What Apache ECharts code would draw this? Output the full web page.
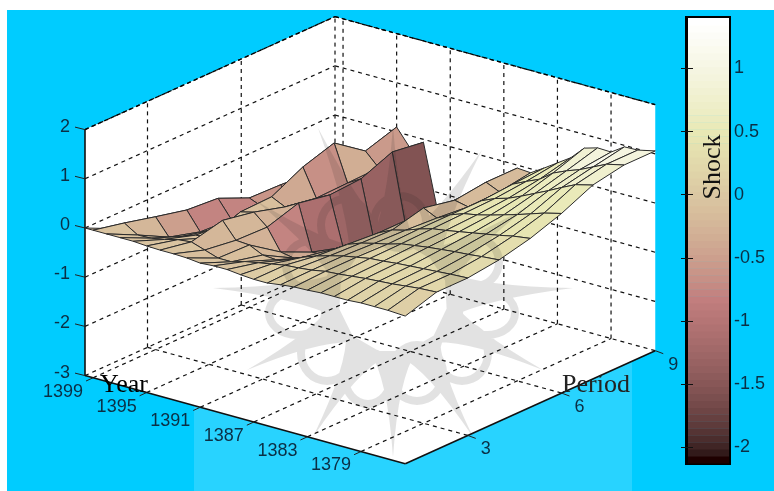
<!DOCTYPE html>
<html><head><meta charset="utf-8">
<style>html,body{margin:0;padding:0;background:#fff}#c{width:774px;height:491px}</style>
<script src="https://cdn.jsdelivr.net/npm/echarts@6/dist/echarts.min.js"></script>
</head><body><div id="c"></div>
<script>
// ---- data ----
const yearTicks = [1399,1395,1391,1387,1383,1379];
const periodTicks = [3,6,9];
const shockTicks = [-3,-2,-1,0,1,2];
const barTicks = [-2,-1.5,-1,-0.5,0,0.5,1];
const years = [1399.6,1399,1398,1397,1396,1395,1394,1393,1392,1391,1390,1389,1388,1387,1386,1385,1384,1383,1382,1381,1380,1379,1378,1377,1375.7];
const periods = [1,2,3,4,5,6,7,8,9];
const shock = [
 [0,-.3,-.5,-.65,-.75,-.95,-1,-1,-.8],
 [0,-.14,-.3,-.45,-.5,-.78,-.8,-.85,-.75],
 [0,-.31,-.64,-.82,-.86,-.89,-1.1,-1.1,-1],
 [0,-.3,-.55,-.7,-.75,-.8,-.9,-.9,-.8],
 [0,-.25,-.45,-.5,-.5,-.55,-.6,-.7,-.6],
 [-.02,-.18,-.43,-.19,-.17,.15,.35,-.1,.1],
 [-.03,-.15,0,-.12,-.3,-.41,-.39,-.37,-.25],
 [-.03,-.24,-.33,-.35,-.15,-.27,-.23,.03,-.06],
 [-.04,-.33,-.35,-.78,-1.07,-1.26,-1.44,-1.39,-1.3],
 [-.07,-.33,-.48,-.83,-1.06,-1.24,-1.29,-1.25,-1.19],
 [-.05,-.25,-.5,-.75,-.95,-1.05,-1.05,-1.1,-1.1],
 [-.05,-.2,-.42,-.6,-.75,-.85,-.85,-.9,-.85],
 [-.08,-.15,-.3,-.42,-.5,-.55,-.55,-.6,-.55],
 [-.1,-.1,-.2,-.25,-.3,-.3,-.32,-.35,-.3],
 [-.1,-.08,-.12,-.15,-.17,-.01,-.14,-.06,-.06],
 [-.06,-.05,-.05,-.08,-.1,-.14,-.2,-.18,-.08],
 [-.03,0,0,-.02,0,0,0,.05,.09],
 [-.02,.02,.05,.06,.08,.1,.12,.18,.27],
 [0,.05,.07,.1,.12,.15,.2,.3,.45],
 [0,.08,.1,.14,.17,.22,.32,.5,.72],
 [0,.1,.12,.17,.22,.3,.45,.62,.8],
 [.02,.12,.14,.2,.27,.38,.58,.72,.79],
 [.02,.15,.16,.22,.32,.47,.72,.85,.97],
 [.02,.18,.18,.25,.38,.56,.85,.98,.98],
 [0,.2,.2,.28,.43,.65,.94,1.06,1.06]
];
// colour of each mesh cell (flat shaded, as the picture shows it)
const cellShock = [
 [-.05,-.25,-.5,-.75,-.8,-.6,-.6,-.6],
 [-.05,-.25,-.5,-.75,-.8,-.6,-.6,-.6],
 [-.05,-.1,-.2,-.3,-.3,-.3,-.3,-.3],
 [-.05,-.1,-.2,-.3,-.3,-.3,-.3,-.3],
 [-.05,-.08,-.1,-.2,-.3,-.6,-.6,-.6],
 [-.05,0,-.05,-.1,-.4,-.65,-.35,-.55],
 [-.05,-.2,-.2,-.3,-.45,-.7,-.6,-.6],
 [-.1,-.2,-.3,-.75,-1.1,-1.25,-1.3,-1.55],
 [-.05,-.1,-.25,-.4,-.55,-.5,-.5,-.5],
 [-.05,-.1,-.2,-.35,-.45,-.45,-.45,-.45],
 [-.05,-.1,-.15,-.2,-.25,-.25,-.25,-.25],
 [0,-.05,-.1,-.15,-.15,-.15,-.15,-.15],
 [.05,0,-.05,-.05,-.05,-.1,-.1,-.1],
 [.1,.05,0,0,-.05,-.15,-.15,-.15],
 [.1,.05,.05,.05,-.1,-.15,-.15,-.15],
 [.1,.1,.12,.15,.2,.3,.35,.4],
 [.12,.15,.15,.2,.3,.4,.45,.5],
 [.15,.18,.2,.25,.35,.45,.5,.55],
 [.15,.2,.22,.28,.4,.5,.55,.65],
 [.15,.2,.25,.3,.42,.5,.6,.8],
 [.15,.2,.25,.3,.42,.52,.65,.95],
 [.15,.2,.25,.3,.42,.55,.7,1.1],
 [.15,.2,.25,.32,.45,.55,.75,1.0],
 [.12,.2,.25,.32,.45,.55,.75,.95]
];
const yearMax = 1399.6, yearMin = 1375.7, periodMin = 1, periodMax = 9, zMin = -3, zMax = 2;
const barMin = -2.126, barMax = 1.40;

// ---- view: MATLAB-style parallel projection of (year, period, shock) ----
function proj(year, period, z){
  const a = yearMax - year, b = period - periodMin;
  return [85 + a*13.4 + b*31.25, 228 + a*3.685 - b*14.125 - z*49.2];
}
// ---- MATLAB pink colormap ----
const pink = [];
for(let k=0;k<64;k++){
  const g=k/63;
  const r=Math.min(1,(k+1)/24), gg=k<24?0:Math.min(1,(k-23)/24), bb=k<48?0:(k-47)/16;
  pink.push('rgb('+[r,gg,bb].map(h=>Math.round(255*Math.sqrt((2*g+h)/3))).join(',')+')');
}
function colour(v){
  const k=Math.max(0,Math.min(63,Math.floor((v-barMin)/(barMax-barMin)*64)));
  return pink[k];
}
// ---- builders ----
const P = (y,p,z)=>proj(y,p,z);
const gridSegs = [];
shockTicks.forEach(z=>{
  gridSegs.push([P(yearMax,periodMin,z),P(yearMax,periodMax,z)]);
  gridSegs.push([P(yearMax,periodMax,z),P(yearMin,periodMax,z)]);
});
periodTicks.forEach(p=>{
  gridSegs.push([P(yearMax,p,zMin),P(yearMax,p,zMax)]);
  if(p!==periodMax) gridSegs.push([P(yearMax,p,zMin),P(yearMin,p,zMin)]);
});
yearTicks.forEach(y=>{
  gridSegs.push([P(y,periodMax,zMin),P(y,periodMax,zMax)]);
  gridSegs.push([P(y,periodMin,zMin),P(y,periodMax,zMin)]);
});
const solidSegs = [
 [P(yearMax,periodMin,zMin),P(yearMax,periodMin,zMax)],
 [P(yearMax,periodMin,zMin),P(yearMin,periodMin,zMin)],
 [P(yearMin,periodMin,zMin),P(yearMin,periodMax,zMin)]
];
const tickSegs = [];
shockTicks.forEach(z=>{const s=P(yearMax,periodMin,z);tickSegs.push([s,[s[0]-10,s[1]-2.5]]);});
yearTicks.forEach(y=>{const s=P(y,periodMin,zMin);tickSegs.push([s,[s[0]-7,s[1]+3.2]]);});
periodTicks.forEach(p=>{const s=P(yearMin,p,zMin);tickSegs.push([s,[s[0]+8,s[1]+3]]);});

const tickFont='18px "Liberation Sans"', tickCol='#0b2f45';
const texts=[];
shockTicks.forEach(z=>{const s=P(yearMax,periodMin,z);texts.push({t:String(z),p:[70,s[1]-3],a:'right',f:tickFont,c:tickCol});});
yearTicks.forEach(y=>{const s=P(y,periodMin,zMin);texts.push({t:String(y),p:[s[0]-30,s[1]+14],a:'center',f:tickFont,c:tickCol});});
periodTicks.forEach(p=>{const s=P(yearMin,p,zMin);texts.push({t:String(p),p:[s[0]+18,s[1]+14],a:'center',f:tickFont,c:tickCol});});
texts.push({t:'Year',p:[100,385],a:'left',f:'26px "Liberation Serif"',c:'#000'});
texts.push({t:'Period',p:[562,385],a:'left',f:'26px "Liberation Serif"',c:'#222'});

const cells=[];
for(let r=0;r<years.length-1;r++) for(let j=periods.length-2;j>=0;j--) cells.push([r,j]);

// ---- faint ornament watermark lying over the plot ----
function ornament(){
  const c=[393,298]; let d='';
  const tips=[[213,288],[247,370],[313,437],[393,457],[473,437],[543,370],[573,288],[530,205],[482,150],[393,125],[318,128],[255,200]];
  tips.forEach(t=>{
    const ang=Math.atan2(t[1]-c[1],t[0]-c[0]);
    const r0=58, da=0.42;
    const b1=[c[0]+r0*Math.cos(ang-da),c[1]+r0*Math.sin(ang-da)];
    const b2=[c[0]+r0*Math.cos(ang+da),c[1]+r0*Math.sin(ang+da)];
    const mx1=c[0]+(t[0]-c[0])*.5-(t[1]-c[1])*.035, my1=c[1]+(t[1]-c[1])*.5+(t[0]-c[0])*.035;
    const mx2=c[0]+(t[0]-c[0])*.5+(t[1]-c[1])*.035, my2=c[1]+(t[1]-c[1])*.5-(t[0]-c[0])*.035;
    d+=`M${b1[0]} ${b1[1]}Q${mx2} ${my2} ${t[0]} ${t[1]}Q${mx1} ${my1} ${b2[0]} ${b2[1]}Z`;
  });
  const rings=[[327,353,22,24],[368,378,19,22],[417,373,22,24],[462,353,22,24],[297,313,24,18],[487,313,24,18],[345,225,20,22],[400,222,22,22],[310,265,20,20],[475,262,20,20]];
  rings.forEach(o=>{
    const [x,y,a,b]=o, w=8;
    d+=`M${x-a-w} ${y}A${a+w} ${b+w} 0 1 1 ${x+a+w} ${y}A${a+w} ${b+w} 0 1 1 ${x-a-w} ${y}Z`;
    d+=`M${x-a} ${y}A${a} ${b} 0 1 0 ${x+a} ${y}A${a} ${b} 0 1 0 ${x-a} ${y}Z`;
  });
  return d;
}

function segSeries(segs,z,style){
  return {type:'custom',xAxisIndex:0,yAxisIndex:0,z,silent:true,clip:false,
    data:segs.map((s,i)=>[i]),
    renderItem:(p,api)=>{const s=segs[api.value(0)];const a=api.coord(s[0]),b=api.coord(s[1]);
      return {type:'line',shape:{x1:a[0],y1:a[1],x2:b[0],y2:b[1]},style};}};
}

const chart=echarts.init(document.getElementById('c'),null,{renderer:'canvas'});
const topEdges=[[P(yearMax,periodMin,zMax),P(yearMax,periodMax,zMax)],[P(yearMax,periodMax,zMax),P(yearMin,periodMax,zMax)]];
const option={
 animation:false,backgroundColor:'#fff',
 grid:[{left:0,top:0,width:774,height:491},{left:687,top:18,width:42,height:445,show:true,borderColor:'#000',borderWidth:0}],
 xAxis:[{type:'value',min:0,max:774,show:false,gridIndex:0},{type:'value',min:0,max:1,show:false,gridIndex:1}],
 yAxis:[{type:'value',min:0,max:491,inverse:true,show:false,gridIndex:0},
  {type:'value',gridIndex:1,z:7,min:barMin,max:barMax,position:'right',splitLine:{show:false},
   axisLine:{show:true,lineStyle:{color:'#000',width:2}},
   axisTick:{show:true,inside:true,length:6,customValues:barTicks,lineStyle:{color:'#111'}},
   axisLabel:{show:true,customValues:barTicks,margin:5,color:tickCol,fontSize:18,fontFamily:'Liberation Sans',formatter:v=>String(v)}},
  {type:'value',gridIndex:1,z:7,min:barMin,max:barMax,position:'left',splitLine:{show:false},
   axisLine:{show:true,lineStyle:{color:'#000',width:2}},
   axisTick:{show:true,inside:true,length:6,customValues:barTicks,lineStyle:{color:'#111'}},
   axisLabel:{show:false}}],
 graphic:{elements:[
  {type:'rect',z:0,silent:true,shape:{x:7,y:10,width:767,height:481},style:{fill:'#00ccff'}},
  {type:'rect',z:0,silent:true,shape:{x:194,y:300,width:438,height:191},style:{fill:'#28d3ff'}},
  {type:'rect',z:0,silent:true,shape:{x:686,y:17,width:44,height:447},style:{fill:'none',stroke:'#000',lineWidth:2}},
  {type:'text',z:12,silent:true,x:713,y:167,rotation:Math.PI/2,style:{text:'Shock',align:'center',verticalAlign:'middle',font:'26px "Liberation Serif"',fill:'#111'}}
 ]},
 series:[
  {type:'custom',xAxisIndex:0,yAxisIndex:0,z:1,silent:true,clip:false,data:[[0]],
   renderItem:(p,api)=>{
     const pts=[P(yearMax,periodMin,zMin),P(yearMax,periodMin,zMax),P(yearMax,periodMax,zMax),P(yearMin,periodMax,zMax),P(yearMin,periodMax,zMin),P(yearMin,periodMin,zMin)].map(q=>api.coord(q));
     return {type:'polygon',shape:{points:pts},style:{fill:'#fff'}};}},
  segSeries(gridSegs,2,{stroke:'#111',lineWidth:1.2,lineDash:[4,4]}),
  segSeries(topEdges,2,{stroke:'#000',lineWidth:1.3,lineDash:[4,3]}),
  segSeries(solidSegs,3,{stroke:'#111',lineWidth:1.6}),
  segSeries(tickSegs,3,{stroke:'#222',lineWidth:1}),
  {type:'custom',xAxisIndex:0,yAxisIndex:0,z:4,silent:true,clip:false,
   data:cells,
   renderItem:(p,api)=>{
     const r=api.value(0),j=api.value(1);
     const c=[[r,j],[r,j+1],[r+1,j+1],[r+1,j]].map(q=>api.coord(P(years[q[0]],periods[q[1]],shock[q[0]][q[1]])));
     return {type:'polygon',shape:{points:c},style:{fill:colour(cellShock[r][j]),stroke:'#2b2b2b',lineWidth:1,lineJoin:'round'}};}},
  {type:'custom',xAxisIndex:0,yAxisIndex:0,z:6,silent:true,clip:false,data:[[0]],
   renderItem:()=>({type:'path',shape:{pathData:ornament()},style:{fill:'rgba(30,30,30,0.13)'}})},
  {type:'custom',xAxisIndex:1,yAxisIndex:1,z:2,silent:true,
   data:pink.map((c,i)=>[i]),
   renderItem:(p,api)=>{
     const i=api.value(0),h=(barMax-barMin)/64;
     const a=api.coord([0,barMin+(i+1)*h]),b=api.coord([1,barMin+i*h]);
     return {type:'rect',shape:{x:a[0],y:a[1],width:b[0]-a[0],height:b[1]-a[1]+0.5},style:{fill:pink[i]}};}},
  {type:'custom',xAxisIndex:0,yAxisIndex:0,z:8,silent:true,clip:false,
   data:texts.map((t,i)=>[i]),
   renderItem:(p,api)=>{const t=texts[api.value(0)];const q=api.coord(t.p);
     return {type:'text',style:{text:t.t,x:q[0],y:q[1],align:t.a,verticalAlign:'middle',font:t.f,fill:t.c}};}}
 ]
};
chart.setOption(option);
</script></body></html>
